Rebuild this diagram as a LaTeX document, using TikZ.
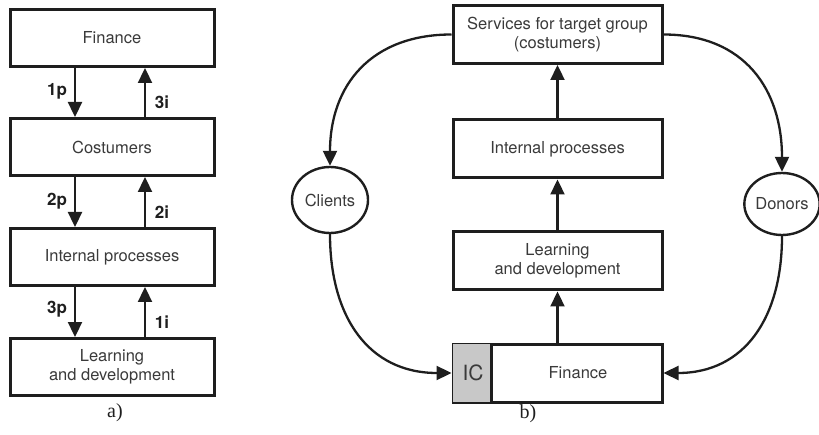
\documentclass[tikz,border=0pt]{standalone}
\usepackage{fontspec}
\setmainfont{TeX Gyre Heros}
\newfontfamily\serifcap{Liberation Serif}
\usetikzlibrary{arrows.meta,shapes.geometric}
\definecolor{ln}{HTML}{1E1E1E}
\definecolor{tx}{HTML}{3A3A3A}
\definecolor{icg}{HTML}{C8C8C8}
\tikzset{
  box/.style={draw=ln,line width=3pt,minimum width=204pt,minimum height=57pt,inner sep=0pt,align=center,text=tx,font=\fontsize{16.5}{19}\selectfont},
  boxb/.style={box,minimum width=209pt,minimum height=58pt},
  circ/.style={ellipse,draw=ln,line width=2.4pt,inner sep=0pt,text=tx,font=\fontsize{16.5}{19}\selectfont},
  arr/.style={draw=ln,line width=2.3pt,-{Triangle[length=15pt,width=14pt]}},
  lab/.style={text=ln,font=\bfseries\fontsize{17}{19}\selectfont,inner sep=0pt},
  captxt/.style={text=ln,font=\serifcap\fontsize{20}{22}\selectfont,inner sep=0pt}
}
\begin{document}
\begin{tikzpicture}[x=1pt,y=1pt]
\useasboundingbox (0,0) rectangle (819,434);
% panel a
\node[box] (fa) at (112,396) {Finance};
\node[box] (ca) at (112,287) {Costumers};
\node[box] (ia) at (112,177) {Internal processes};
\node[box] (la) at (112,67) {Learning\\and development};
\draw[arr] ([xshift=-37pt]fa.south) -- ([xshift=-37pt]ca.north);
\draw[arr] ([xshift=33pt]ca.north) -- ([xshift=33pt]fa.south);
\draw[arr] ([xshift=-37pt]ca.south) -- ([xshift=-37pt]ia.north);
\draw[arr] ([xshift=33pt]ia.north) -- ([xshift=33pt]ca.south);
\draw[arr] ([xshift=-37pt]ia.south) -- ([xshift=-37pt]la.north);
\draw[arr] ([xshift=33pt]la.north) -- ([xshift=33pt]ia.south);
\node[lab] (l1p) at (57,343) {1p};
\node[lab] (l3i) at (162,332) {3i};
\node[lab] (l2p) at (57,233) {2p};
\node[lab] (l2i) at (162,222) {2i};
\node[lab] (l3p) at (57,125) {3p};
\node[lab] (l1i) at (162,112) {1i};
\node[captxt] (capa) at (115,21) {a)};
% panel b
\node[boxb] (sv) at (557.5,399.5) {Services for target group\\(costumers)};
\node[boxb] (ib) at (557.5,285) {Internal processes};
\node[boxb] (lb) at (557.5,173) {Learning\\and development};
\node[boxb] (fb) at (557.5,61) {};
\fill[icg] ([xshift=1.5pt,yshift=1.5pt]fb.south west) rectangle ([xshift=40pt,yshift=-1.5pt]fb.north west);
\draw[draw=ln,line width=2.4pt] ([xshift=40pt]fb.south west) -- ([xshift=40pt]fb.north west);
\node[text=tx,font=\fontsize{21}{22}\selectfont,inner sep=0pt] (ic) at (473,61) {IC};
\node[text=tx,font=\fontsize{16.5}{19}\selectfont,inner sep=0pt] (fbt) at (578,61) {Finance};
\node[circ,minimum width=76pt,minimum height=66pt] (cl) at (330,234) {Clients};
\node[circ,minimum width=72pt,minimum height=62pt] (dn) at (782,230) {Donors};
\draw[arr] (fb.north) -- (lb.south);
\draw[arr] (lb.north) -- (ib.south);
\draw[arr] (ib.north) -- (sv.south);
\draw[arr] (sv.west) to[out=180,in=90,looseness=1.15] (cl.north);
\draw[arr] (cl.south) to[out=-90,in=180,looseness=1.15] (fb.west);
\draw[arr] (sv.east) to[out=0,in=90,looseness=1.15] (dn.north);
\draw[arr] (dn.south) to[out=-90,in=0,looseness=1.15] (fb.east);
\node[captxt] (capb) at (528,20) {b)};
\end{tikzpicture}
\end{document}
